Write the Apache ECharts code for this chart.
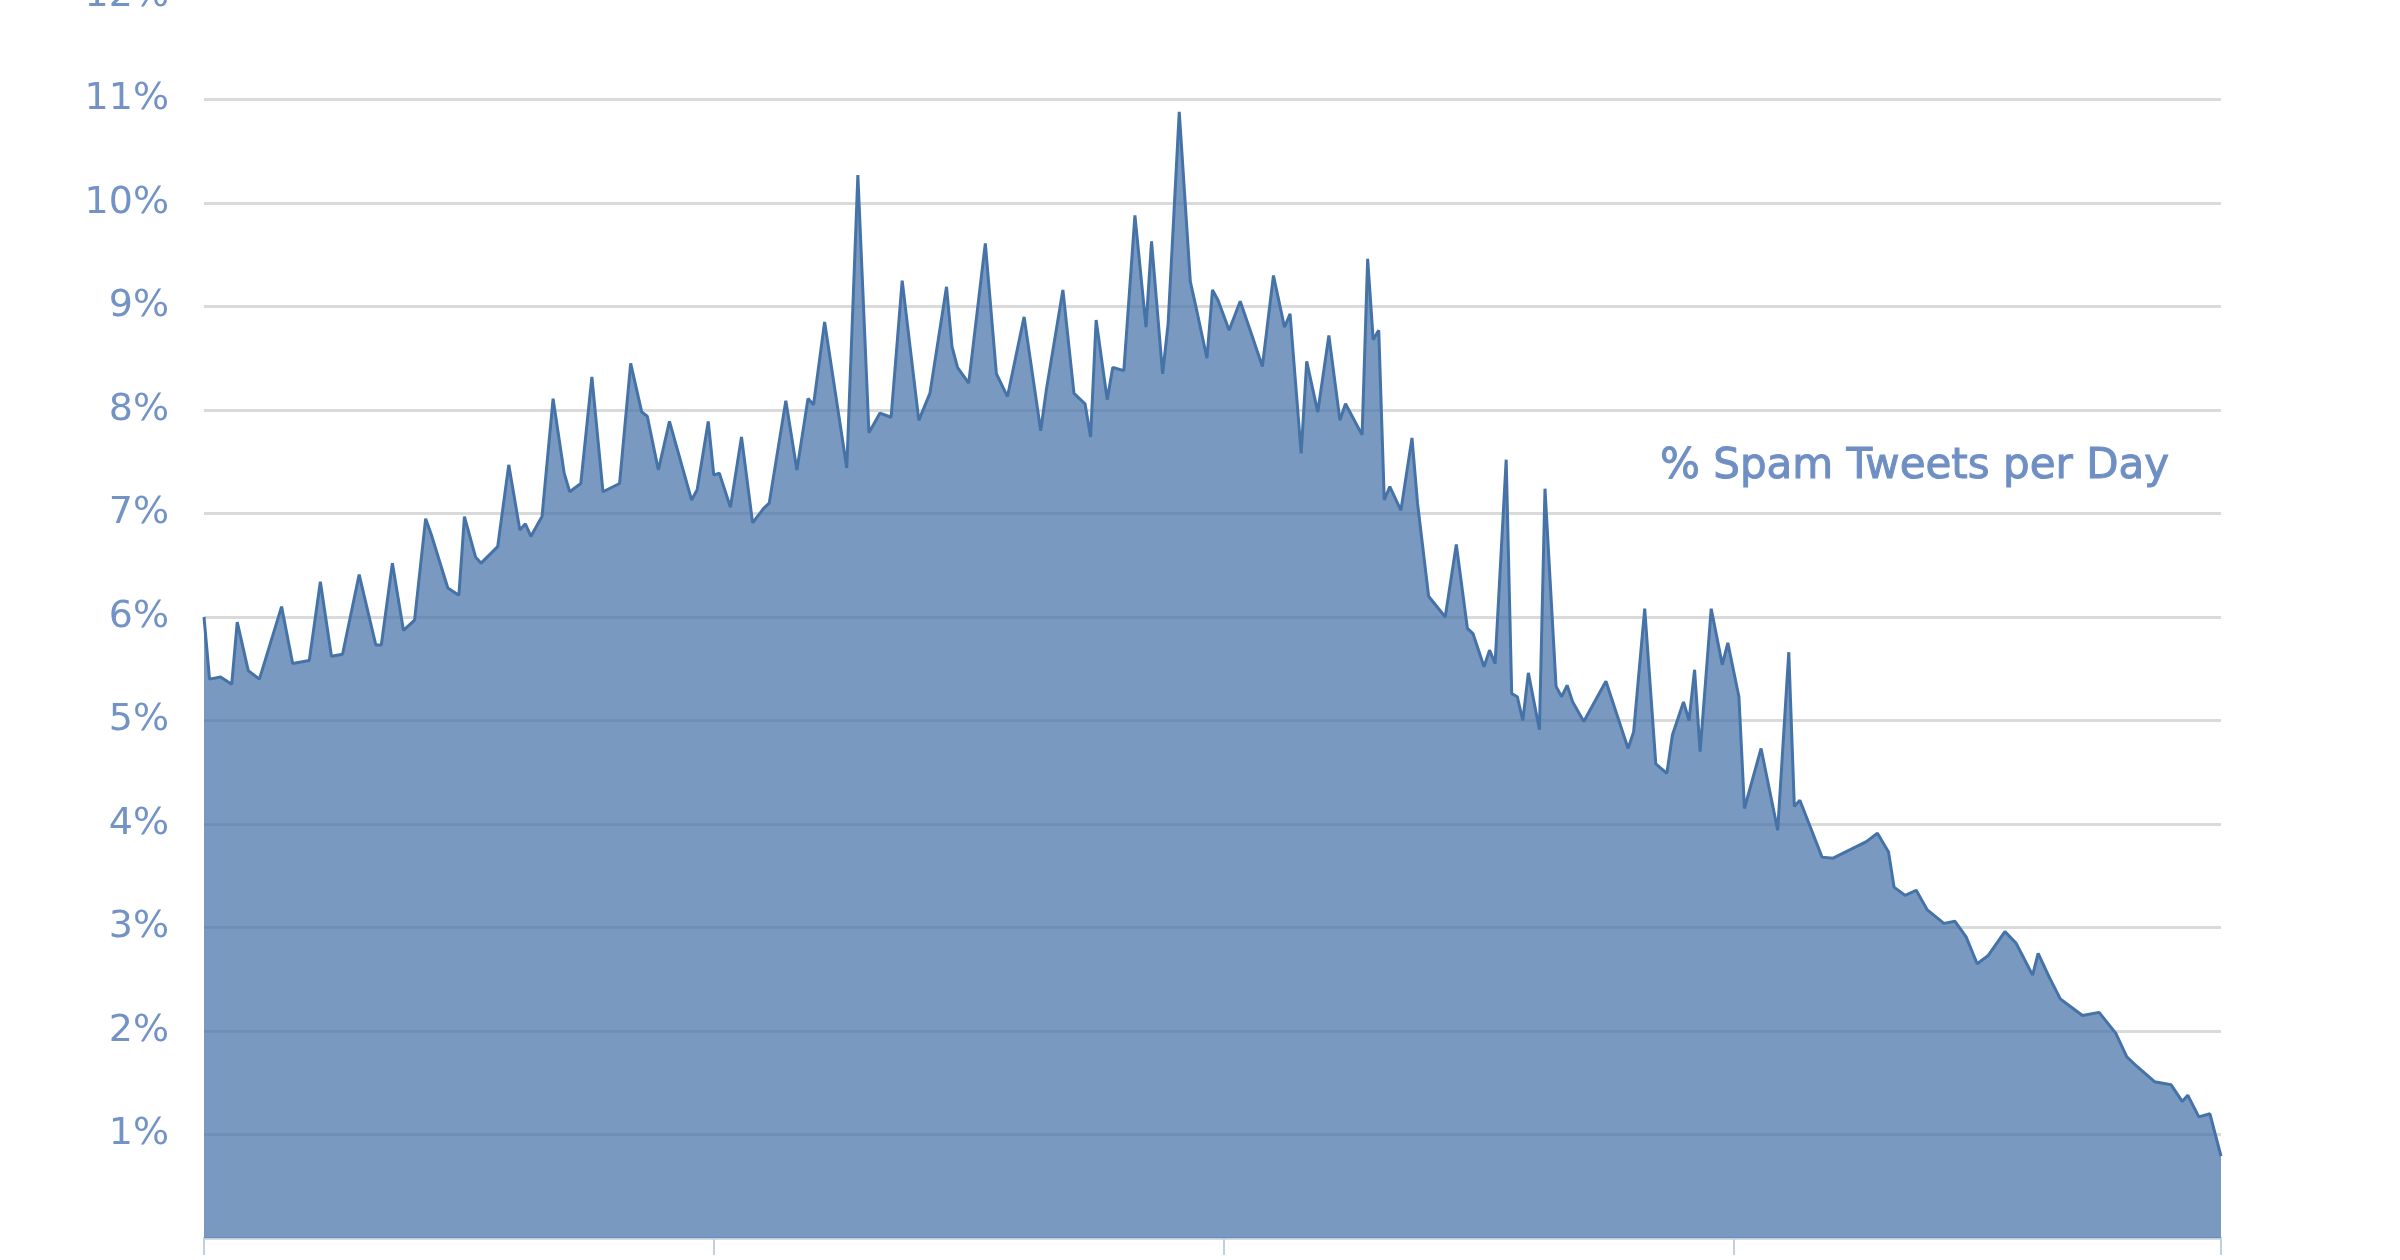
<!DOCTYPE html>
<html>
<head>
<meta charset="utf-8">
<title>% Spam Tweets per Day</title>
<script src="https://cdn.jsdelivr.net/npm/echarts@6/dist/echarts.min.js"></script>
<style>
  html, body { margin: 0; padding: 0; background: #fff; }
  #chart-container { width: 2400px; height: 1260px; }
</style>
</head>
<body>
<div id="chart-container"></div>
<script>
var dom = document.getElementById("chart-container");
var myChart = echarts.init(dom, null, { renderer: "canvas" });

// day index (0 = first day of the year shown) and % spam
const days = [
  0, 1, 3, 5, 6, 8, 10, 14, 16, 19, 21, 23, 25, 28, 31, 32, 34, 36, 38, 40,
  41, 44, 46, 47, 49, 50, 53, 55, 57, 58, 59, 61, 63, 65, 66, 68, 70, 72, 75, 77,
  79, 80, 82, 84, 88, 89, 91, 92, 93, 95, 97, 99, 101, 102, 105, 107, 109, 110, 112, 116,
  118, 120, 122, 124, 126, 129, 131, 134, 135, 136, 138, 141, 143, 145, 148, 151, 152, 155, 157, 159,
  160, 161, 163, 164, 166, 168, 170, 171, 173, 174, 176, 178, 179, 181, 182, 183, 185, 187, 189, 191,
  193, 195, 196, 198, 199, 201, 203, 205, 206, 209, 210, 211, 212, 213, 214, 216, 218, 219, 221, 224,
  226, 228, 229, 231, 232, 233, 235, 236, 237, 238, 239, 241, 242, 244, 245, 246, 247, 249, 253, 257,
  258, 260, 262, 264, 265, 267, 268, 269, 270, 272, 274, 275, 277, 278, 281, 284, 286, 287, 288, 292,
  294, 297, 300, 302, 304, 305, 307, 309, 311, 314, 316, 318, 320, 322, 325, 327, 330, 331, 333, 335,
  337, 339, 342, 345, 347, 349, 352, 355, 357, 358, 360, 362, 364
];
const spamPct = [
  6.0, 5.4, 5.42, 5.35, 5.95, 5.48, 5.4, 6.1, 5.55, 5.58, 6.34, 5.62, 5.64, 6.41, 5.73, 5.73, 6.52, 5.87, 5.97, 6.95,
  6.8, 6.28, 6.21, 6.97, 6.58, 6.52, 6.68, 7.47, 6.84, 6.9, 6.78, 6.97, 8.11, 7.39, 7.21, 7.29, 8.32, 7.21, 7.29, 8.45,
  7.98, 7.94, 7.42, 7.89, 7.13, 7.23, 7.89, 7.37, 7.39, 7.06, 7.74, 6.91, 7.05, 7.1, 8.09, 7.42, 8.11, 8.05, 8.85, 7.44,
  10.27, 7.78, 7.97, 7.93, 9.25, 7.9, 8.16, 9.19, 8.61, 8.41, 8.26, 9.61, 8.35, 8.13, 8.9, 7.8, 8.19, 9.16, 8.16, 8.06,
  7.74, 8.87, 8.1, 8.41, 8.38, 9.88, 8.8, 9.63, 8.35, 8.84, 10.88, 9.24, 9.0, 8.5, 9.16, 9.06, 8.77, 9.05, 8.74, 8.42,
  9.3, 8.8, 8.93, 7.58, 8.47, 7.98, 8.72, 7.9, 8.06, 7.76, 9.46, 8.68, 8.77, 7.13, 7.26, 7.03, 7.73, 7.1, 6.2, 6.0,
  6.7, 5.89, 5.84, 5.52, 5.68, 5.55, 7.52, 5.26, 5.23, 5.0, 5.46, 4.91, 7.24, 5.33, 5.23, 5.34, 5.18, 4.99, 5.38, 4.73,
  4.89, 6.08, 4.58, 4.49, 4.86, 5.18, 5.0, 5.49, 4.7, 6.08, 5.54, 5.75, 5.23, 4.15, 4.73, 3.94, 5.66, 4.17, 4.23, 3.68,
  3.67, 3.75, 3.83, 3.91, 3.73, 3.39, 3.31, 3.36, 3.17, 3.04, 3.06, 2.91, 2.65, 2.73, 2.96, 2.85, 2.54, 2.75, 2.52, 2.31,
  2.23, 2.15, 2.18, 1.98, 1.75, 1.65, 1.51, 1.48, 1.32, 1.38, 1.17, 1.2, 0.79
];

const seriesName = "% Spam Tweets per Day";

const points = days.map((d, i) => [d, spamPct[i]]);

var option = {
  animation: false,
  backgroundColor: "#ffffff",
  // top is negative on purpose: the 12% line sits just above the picture
  grid: { left: 204, right: 179, top: -4, bottom: 22, outerBoundsMode: "none" },
  xAxis: {
    type: "value",
    min: 0,
    max: 364,
    interval: 92,
    axisLine: { show: true, lineStyle: { color: "#c0d0e0", width: 2 } },
    axisTick: { show: true, length: 17, lineStyle: { color: "#c0d0e0", width: 2 } },
    axisLabel: { show: false },
    splitLine: { show: false },
  },
  yAxis: {
    type: "value",
    min: 0,
    max: 12,
    interval: 1,
    axisLine: { show: false },
    axisTick: { show: false },
    axisLabel: {
      margin: 35,
      color: "#7393c6",
      fontSize: 38,
      fontFamily: "DejaVu Sans",
      formatter: function (v) {
        return v === 0 ? "" : v + "%";
      },
    },
    splitLine: { lineStyle: { color: "#dadada", width: 3 } },
  },
  graphic: [
    {
      type: "text",
      x: 1660,
      y: 467,
      style: {
        text: seriesName,
        fill: "#6f8fc4",
        fontSize: 42,
        fontFamily: "DejaVu Sans",
        verticalAlign: "middle",
        stroke: "#6f8fc4",
        lineWidth: 1,
      },
    },
  ],
  series: [
    {
      name: seriesName,
      type: "line",
      data: points,
      showSymbol: false,
      smooth: false,
      lineStyle: { color: "#4572a7", width: 3 },
      areaStyle: { color: "#4572a7", opacity: 0.72 },
    },
  ],
};

myChart.setOption(option);
window.addEventListener("resize", myChart.resize);
</script>
</body>
</html>
